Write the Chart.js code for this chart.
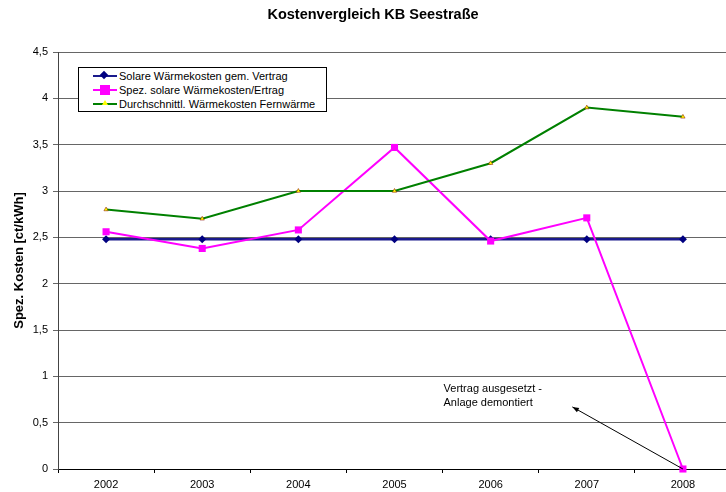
<!DOCTYPE html>
<html>
<head>
<meta charset="utf-8">
<script src="https://cdn.jsdelivr.net/npm/chart.js@4"></script>
<style>
  html, body { margin: 0; padding: 0; background: #fff; }
  #wrap { position: relative; width: 726px; height: 492px; overflow: hidden; font-family: 'Liberation Sans', Arial, sans-serif; }
  #box { position: absolute; left: 0; top: 0; width: 736px; height: 492px; }
  #title { position: absolute; left: 0; top: 6px; width: 746px; text-align: center; font-weight: bold; font-size: 14.5px; }
  #legend { position: absolute; left: 78px; top: 67px; width: 249px; height: 45px; border: 1px solid #000; background: #fff; box-sizing: border-box; padding-top: 1px; }
  .item { position: relative; height: 14px; font-size: 11px; line-height: 14px; padding-left: 40px; white-space: nowrap; }
  .line { position: absolute; left: 14px; top: 6px; width: 24px; height: 2px; }
  .mk { position: absolute; }
</style>
</head>
<body>
<div id="wrap">
  <div id="box"><canvas id="chart"></canvas></div>
  <div id="title">Kostenvergleich KB Seestraße</div>
  <div id="legend"></div>
</div>
<script>
const years = ['2002', '2003', '2004', '2005', '2006', '2007', '2008'];
const vertrag = [2.48, 2.48, 2.48, 2.48, 2.48, 2.48, 2.48];
const ertrag = [2.56, 2.38, 2.58, 3.47, 2.46, 2.71, 0];
const fernwaerme = [2.8, 2.7, 3.0, 3.0, 3.3, 3.9, 3.8];
const seriesNames = ['Solare Wärmekosten gem. Vertrag', 'Spez. solare Wärmekosten/Ertrag', 'Durchschnittl. Wärmekosten Fernwärme'];
const noteLines = ['Vertrag ausgesetzt -', 'Anlage demontiert'];

// note arrow: from the last pink point up to the note (category index, value)
const arrowFrom = [6, 0];
const arrowTo = [4.85, 0.67];
const noteAt = [3.51, 0.86];

const font = "'Liberation Sans', Arial, sans-serif";

const notePlugin = {
  id: 'note',
  afterDatasetsDraw(chart) {
    const { ctx, scales: { x, y } } = chart;
    const x1 = x.getPixelForValue(arrowFrom[0]), y1 = y.getPixelForValue(arrowFrom[1]);
    const x2 = x.getPixelForValue(arrowTo[0]), y2 = y.getPixelForValue(arrowTo[1]);
    ctx.save();
    ctx.strokeStyle = '#000';
    ctx.fillStyle = '#000';
    ctx.lineWidth = 1;
    ctx.beginPath();
    ctx.moveTo(x1, y1);
    ctx.lineTo(x2, y2);
    ctx.stroke();
    const a = Math.atan2(y2 - y1, x2 - x1);
    ctx.beginPath();
    ctx.moveTo(x2, y2);
    ctx.lineTo(x2 - 7 * Math.cos(a - 0.35), y2 - 7 * Math.sin(a - 0.35));
    ctx.lineTo(x2 - 7 * Math.cos(a + 0.35), y2 - 7 * Math.sin(a + 0.35));
    ctx.closePath();
    ctx.fill();
    ctx.font = '11px ' + font;
    ctx.textBaseline = 'middle';
    const tx = x.getPixelForValue(noteAt[0]), ty = y.getPixelForValue(noteAt[1]);
    noteLines.forEach((t, i) => ctx.fillText(t, tx, ty + i * 14));
    ctx.restore();
  }
};

const chart = new Chart(document.getElementById('chart'), {
  type: 'line',
  data: {
    labels: years,
    datasets: [
      {
        label: seriesNames[0], data: vertrag, order: 3,
        borderColor: '#1a1a8c', borderWidth: 2.5, backgroundColor: '#000080',
        pointStyle: 'rectRot', pointRadius: 4, pointBorderWidth: 0
      },
      {
        label: seriesNames[1], data: ertrag, order: 2, clip: false,
        borderColor: '#ff00ff', borderWidth: 2, backgroundColor: '#ff00ff',
        pointStyle: 'rect', pointRadius: 5, pointBorderWidth: 0
      },
      {
        label: seriesNames[2], data: fernwaerme, order: 1,
        borderColor: '#008000', borderWidth: 2, backgroundColor: '#ffff00',
        pointStyle: 'triangle', pointRadius: 2.5, pointBorderColor: '#800000', pointBorderWidth: 0.5
      }
    ]
  },
  options: {
    responsive: true,
    maintainAspectRatio: false,
    animation: false,
    layout: { padding: { top: 52, right: 2, left: 0, bottom: 0 } },
    plugins: { legend: { display: false }, tooltip: { enabled: false } },
    elements: { line: { tension: 0 } },
    scales: {
      x: {
        offset: true,
        afterFit: s => { s.height = 23; },
        grid: { offset: true, drawOnChartArea: false, tickLength: 4, color: '#000' },
        border: { color: '#000', width: 1 },
        ticks: { color: '#000', padding: 5, font: { family: font, size: 11 } }
      },
      y: {
        min: 0, max: 4.5,
        afterFit: s => { s.width = 58; },
        grid: { color: '#666', tickLength: 5 },
        border: { color: '#444', width: 1 },
        ticks: {
          stepSize: 0.5, color: '#000', padding: 5, font: { family: font, size: 11 },
          callback: v => String(v).replace('.', ',')
        },
        title: {
          display: true, text: 'Spez. Kosten [ct/kWh]', color: '#000',
          font: { family: font, size: 13, weight: 'bold' }, padding: { top: 12, bottom: 0 }
        }
      }
    }
  },
  plugins: [notePlugin]
});

// legend box inside the plot, built from the datasets
const legend = document.getElementById('legend');
chart.data.datasets.forEach((ds, i) => {
  const item = document.createElement('div');
  item.className = 'item';
  const line = document.createElement('span');
  line.className = 'line';
  line.style.background = ds.borderColor;
  item.appendChild(line);
  const mk = document.createElement('span');
  mk.className = 'mk';
  if (i === 0) {
    Object.assign(mk.style, { left: '22px', top: '3px', width: '6px', height: '6px', background: ds.backgroundColor, transform: 'rotate(45deg)' });
  } else if (i === 1) {
    Object.assign(mk.style, { left: '21px', top: '2px', width: '10px', height: '10px', background: ds.backgroundColor });
  } else {
    Object.assign(mk.style, { left: '23px', top: '3px', width: '0', height: '0', borderLeft: '3px solid transparent', borderRight: '3px solid transparent', borderBottom: '5px solid #ffff00' });
  }
  item.appendChild(mk);
  item.appendChild(document.createTextNode(ds.label));
  legend.appendChild(item);
});
</script>
</body>
</html>
